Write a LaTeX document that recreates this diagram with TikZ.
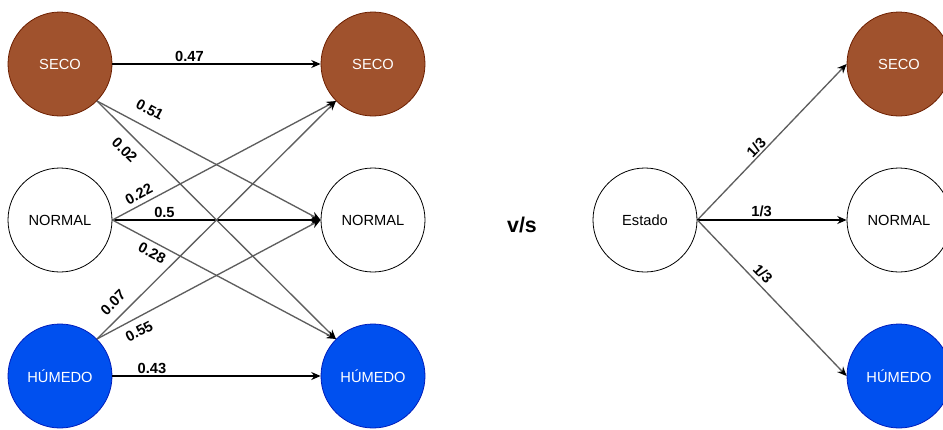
\documentclass[tikz,border=0pt]{standalone}
\usepackage{fontspec}
\setmainfont{Liberation Sans}
\usetikzlibrary{arrows.meta, positioning}

\definecolor{secoFill}{HTML}{A0522D}
\definecolor{secoDraw}{HTML}{6D1F00}
\definecolor{humedoFill}{HTML}{0050EF}
\definecolor{humedoDraw}{HTML}{001DBC}
\definecolor{edgeGray}{HTML}{5E5E5E}

\begin{document}
\begin{tikzpicture}[x=0.75pt, y=-0.75pt,
  stateSt/.style={circle, draw, minimum size=78pt, inner sep=0pt, line width=0.6pt,
                  font=\fontsize{11}{13}\selectfont},
  secoSt/.style={stateSt, fill=secoFill, draw=secoDraw, text=white},
  normalSt/.style={stateSt, fill=white, draw=black},
  humedoSt/.style={stateSt, fill=humedoFill, draw=humedoDraw, text=white},
  sure/.style={-{Stealth[length=7pt,width=6pt]}, draw=black, line width=0.8pt},
  trans/.style={-{Stealth[length=7pt,width=6pt,color=black]}, draw=edgeGray, line width=1pt},
  lbl/.style={font=\bfseries\fontsize{11}{13}\selectfont, inner sep=0pt, sloped}]

\useasboundingbox (0,0) rectangle (943,429);

% -----------------------------------------------------
%  Left: observed transitions
% -----------------------------------------------------
\node[secoSt]   (secoA)   at (60,64)  {SECO};
\node[normalSt] (normalA) at (60,220) {NORMAL};
\node[humedoSt] (humedoA) at (60,376) {HÚMEDO};

\node[secoSt]   (secoB)   at (373,64)  {SECO};
\node[normalSt] (normalB) at (373,220) {NORMAL};
\node[humedoSt] (humedoB) at (373,376) {HÚMEDO};

% straight ones
\draw[sure] (secoA) -- node[lbl, above=1.5pt, pos=0.37] {0.47} (secoB);
\draw[sure] (normalA) -- node[lbl, above=1.5pt, pos=0.25] {0.5} (normalB);
\draw[sure] (humedoA) -- node[lbl, above=1pt, pos=0.19] {0.43} (humedoB);

% crossing ones
\draw[trans] (secoA.south east) -- node[lbl, above=8.5pt, pos=0.2] {0.51} (normalB.west);
\draw[trans] (secoA.south east) -- node[lbl, below=7pt, pos=0.16] {0.02} (humedoB.north west);
\draw[trans] (normalA.east) -- node[lbl, above=3.5pt, pos=0.14] {0.22} (secoB.south west);
\draw[trans] (normalA.east) -- node[lbl, below=3.5pt, pos=0.2] {0.28} (humedoB.north west);
\draw[trans] (humedoA.north east) -- node[lbl, above=6.5pt, pos=0.11] {0.07} (secoB.south west);
\draw[trans] (humedoA.north east) -- node[lbl, below=5.5pt, pos=0.16] {0.55} (normalB.west);

% -----------------------------------------------------
%  Middle
% -----------------------------------------------------
\node[font=\bfseries\fontsize{16}{18}\selectfont] (vs) at (522,225) {v/s};

% -----------------------------------------------------
%  Right: uniform transitions
% -----------------------------------------------------
\node[normalSt] (estado) at (645,220) {Estado};

\node[secoSt]   (secoC)   at (899,64)  {SECO};
\node[normalSt] (normalC) at (899,220) {NORMAL};
\node[humedoSt] (humedoC) at (899,376) {HÚMEDO};

\draw[trans] (estado.east) -- node[lbl, above=1pt, pos=0.43] {1/3} (secoC.west);
\draw[sure]  (estado.east) -- node[lbl, above=2pt, pos=0.43] {1/3} (normalC.west);
\draw[trans] (estado.east) -- node[lbl, above=3pt, pos=0.39] {1/3} (humedoC.west);

\end{tikzpicture}
\end{document}
